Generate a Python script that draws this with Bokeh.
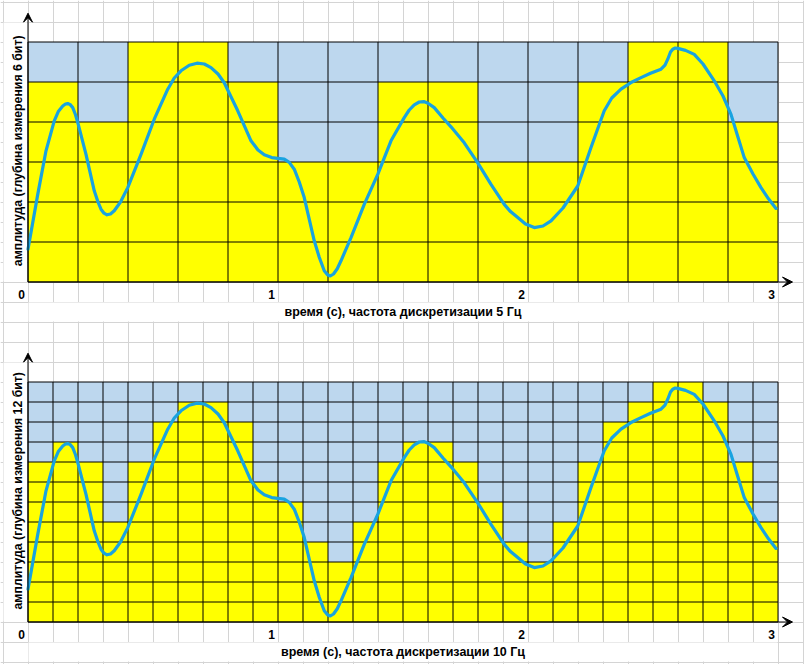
import numpy as np
from bokeh.plotting import figure
from bokeh.models import Range1d, Arrow, VeeHead, Grid, SingleIntervalTicker
from bokeh.core.properties import value
from bokeh.embed import file_html
from bokeh.resources import INLINE

# ---------------- data ----------------
time_s = [0.0, 0.039, 0.072, 0.105, 0.122, 0.139, 0.150, 0.159, 0.168, 0.179,
          0.190, 0.201, 0.232, 0.265, 0.280, 0.292, 0.304, 0.316, 0.330, 0.345,
          0.370, 0.399, 0.452, 0.505, 0.559, 0.585, 0.612, 0.645, 0.676, 0.705,
          0.732, 0.760, 0.785, 0.839, 0.892, 0.920, 0.945, 0.975, 0.999, 1.025,
          1.045, 1.065, 1.085, 1.105, 1.145, 1.165, 1.185, 1.198, 1.209, 1.222,
          1.237, 1.252, 1.292, 1.345, 1.399, 1.452, 1.505, 1.525, 1.545, 1.565,
          1.583, 1.600, 1.625, 1.660, 1.692, 1.745, 1.799, 1.852, 1.905, 1.930,
          1.959, 1.990, 2.025, 2.060, 2.092, 2.140, 2.199, 2.252, 2.280, 2.305,
          2.335, 2.372, 2.410, 2.452, 2.490, 2.532, 2.548, 2.559, 2.570, 2.579,
          2.589, 2.599, 2.630, 2.665, 2.700, 2.745, 2.780, 2.812, 2.840, 2.865,
          2.900, 2.932, 2.962, 2.992]
amplitude = [0.82, 2.19, 3.28, 4.03, 4.27, 4.40, 4.45, 4.46, 4.44, 4.36,
             4.18, 3.94, 3.19, 2.28, 2.00, 1.82, 1.72, 1.68, 1.70, 1.78,
             2.00, 2.36, 3.19, 4.07, 4.82, 5.10, 5.28, 5.42, 5.47, 5.45,
             5.36, 5.20, 4.98, 4.28, 3.53, 3.30, 3.18, 3.11, 3.09, 3.07,
             2.99, 2.82, 2.50, 2.11, 1.03, 0.62, 0.28, 0.18, 0.15, 0.20,
             0.33, 0.53, 1.11, 1.94, 2.69, 3.53, 4.11, 4.30, 4.43, 4.50,
             4.51, 4.47, 4.36, 4.10, 3.88, 3.48, 2.98, 2.44, 1.94, 1.76,
             1.61, 1.45, 1.36, 1.40, 1.53, 1.85, 2.40, 3.36, 3.85, 4.28,
             4.60, 4.82, 4.98, 5.11, 5.22, 5.32, 5.42, 5.57, 5.75, 5.82,
             5.85, 5.84, 5.79, 5.69, 5.45, 5.03, 4.65, 4.19, 3.62, 3.11,
             2.70, 2.36, 2.08, 1.84]

levels_5hz = [5, 4, 6, 6, 5, 3, 3, 5, 5, 3, 3, 5, 6, 6, 4]
levels_10hz = [8, 9, 8, 5, 8, 10, 11, 11, 10, 7, 6, 4, 3, 5, 8,
               9, 9, 8, 6, 4, 3, 5, 8, 10, 11, 12, 12, 11, 8, 5]

x_ticks = [0, 1, 2, 3]
x_tick_labels = ["0", "1", "2", "3"]
x_title_top = "время (с), частота дискретизации 5 Гц"
x_title_bot = "время (с), частота дискретизации 10 Гц"
y_title_top = "амплитуда (глубина измерения 6 бит)"
y_title_bot = "амплитуда (глубина измерения 12 бит)"

DURATION = 3.0
AMP_MAX = 6.0

# ---------------- layout (pixels) ----------------
W, H = 804, 664
X0 = 27.5          # pixel of t = 0
PX_S = 250.0       # pixels per second
PX_A = 40.0        # pixels per amplitude unit
Y0_TOP = 281.5     # pixel of amplitude 0, top chart
Y0_BOT = 621.5     # pixel of amplitude 0, bottom chart

def tx(px):
    return (px - X0) / PX_S

def ay(py, y0):
    return (y0 - py) / PX_A

FONT = value("Liberation Sans")
CURVE = "#19A3E0"
YELLOW = "#FFFF00"
BLUE = "#BDD7EE"
GRIDC = "#D4D4D4"

p = figure(width=W, height=H, output_backend="svg", toolbar_location=None,
           x_range=Range1d(tx(0), tx(W)), y_range=Range1d(ay(H, Y0_TOP), ay(0, Y0_TOP)),
           x_axis_location=None, y_axis_location=None, min_border=0,
           outline_line_color=None, background_fill_color="white",
           border_fill_color="white")
p.extra_y_ranges = {"bot": Range1d(ay(H, Y0_BOT), ay(0, Y0_BOT))}

# spreadsheet grid
p.add_layout(Grid(dimension=0, ticker=SingleIntervalTicker(interval=0.1),
                  grid_line_color=GRIDC, grid_line_width=1))
p.add_layout(Grid(dimension=1, ticker=SingleIntervalTicker(interval=0.5),
                  grid_line_color=GRIDC, grid_line_width=1))

# merged cells (white, no inner grid)
for y0 in (Y0_TOP, Y0_BOT):
    p.quad(left=tx(3), right=tx(27), top=ay(y0 - 259.5, Y0_TOP), bottom=ay(y0 - 0.5, Y0_TOP),
           fill_color="white", line_color=None)
    p.quad(left=tx(28), right=tx(777), top=ay(y0 + 20.5, Y0_TOP), bottom=ay(y0 + 39.5, Y0_TOP),
           fill_color="white", line_color=None)


def draw_chart(levels, yr, x_title, y_title):
    n = len(levels)
    nrows = 12 if n > 15 else 6
    dt = DURATION / n
    step = AMP_MAX / nrows
    lv = np.array(levels, dtype=float)
    left = np.arange(n) * dt
    right = left + dt
    top_y = lv * step
    kw = {} if yr is None else {"y_range_name": yr}
    p.quad(left=left, right=right, bottom=0, top=top_y, fill_color=YELLOW, line_color=None, **kw)
    p.quad(left=left, right=right, bottom=top_y, top=AMP_MAX, fill_color=BLUE, line_color=None, **kw)
    xs = [[x, x] for x in np.arange(n + 1) * dt]
    ys = [[0, AMP_MAX]] * (n + 1)
    xs += [[0, DURATION]] * (nrows + 1)
    ys += [[y, y] for y in np.arange(nrows + 1) * step]
    p.multi_line(xs=xs, ys=ys, line_color="black", line_width=1, **kw)
    p.line(time_s, amplitude, line_color=CURVE, line_width=3.2, line_join="round",
           line_cap="round", **kw)
    p.add_layout(Arrow(end=VeeHead(size=9, fill_color="black", line_color="black", line_width=1),
                       x_start=0, y_start=0, x_end=0, y_end=AMP_MAX + 0.72,
                       line_color="black", line_width=1, **kw))
    p.add_layout(Arrow(end=VeeHead(size=10, fill_color="black", line_color="black", line_width=1),
                       x_start=0, y_start=0, x_end=DURATION + 0.058, y_end=0,
                       line_color="black", line_width=1, **kw))
    p.text(x=x_ticks, y=[0] * len(x_ticks), text=x_tick_labels, x_offset=-3, y_offset=12,
           text_align="right", text_baseline="middle", text_font=FONT,
           text_font_style="bold", text_font_size="12px", text_color="black", **kw)
    p.text(x=[DURATION / 2], y=[0], text=[x_title], y_offset=30,
           text_align="center", text_baseline="middle", text_font=FONT,
           text_font_style="bold", text_font_size="12.5px", text_color="black", **kw)
    p.text(x=[tx(17.5)], y=[3.28], text=[y_title], angle=np.pi / 2,
           text_align="center", text_baseline="middle", text_font=FONT,
           text_font_style="bold", text_font_size="12.3px", text_color="black", **kw)


draw_chart(levels_5hz, None, x_title_top, y_title_top)
draw_chart(levels_10hz, "bot", x_title_bot, y_title_bot)

open("out.html", "w").write(file_html(p, INLINE))
